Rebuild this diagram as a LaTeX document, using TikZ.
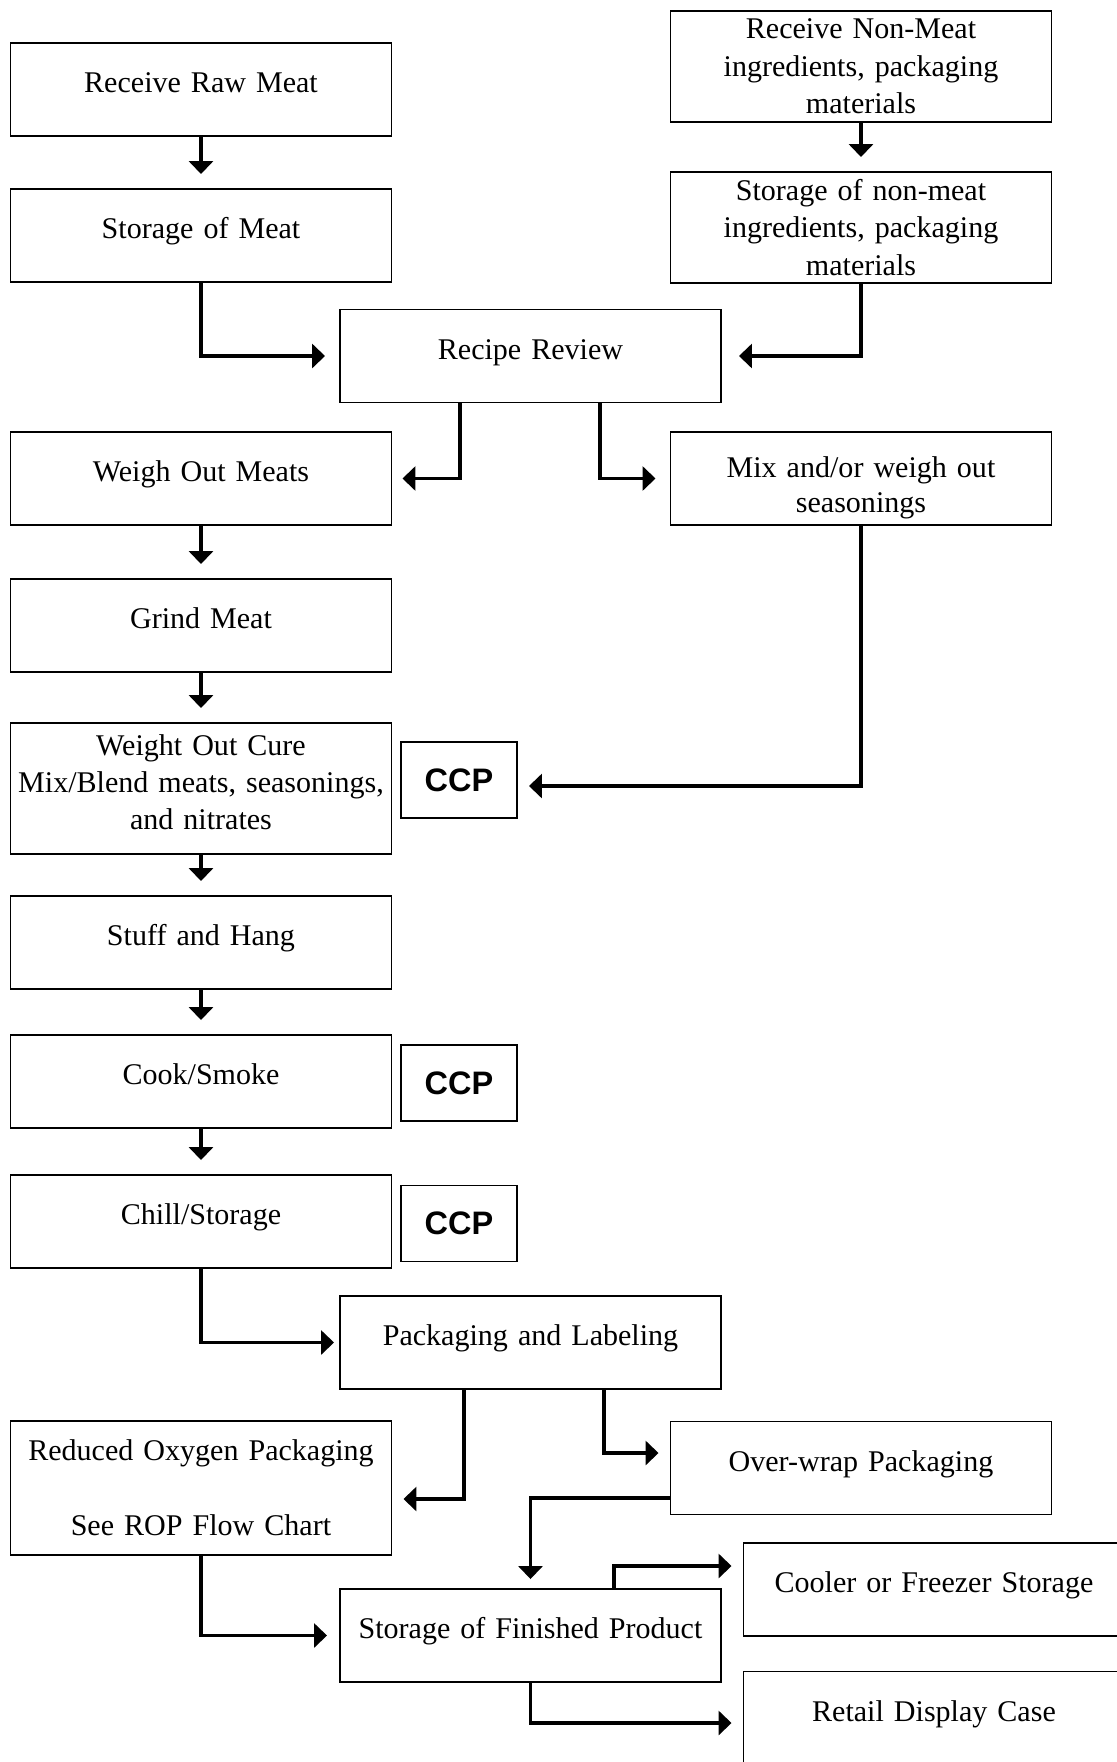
\documentclass[tikz,border=0pt]{standalone}
\usepackage{fontspec}
\setmainfont{Liberation Serif}
\newfontfamily\ccpfont{Liberation Sans}
\usepackage{tikz}
\usetikzlibrary{arrows.meta}
\tikzstyle{box}=[draw, line width=1.1pt, text width=7.56cm, text centered,
  inner xsep=0.03cm, minimum width=7.62cm, minimum height=1.86cm,
  font=\fontsize{17.1}{21.3}\selectfont]
\tikzstyle{stage}=[box, text height=0.45cm, text depth=0.33cm]
\tikzstyle{tall}=[box, minimum height=2.22cm]
\tikzstyle{ccp}=[draw, line width=1.1pt, minimum width=2.32cm,
  minimum height=1.52cm, font=\ccpfont\bfseries\fontsize{18.5}{22}\selectfont]
\tikzstyle{line}=[draw, line width=2pt, -{Triangle[length=0.26cm,width=0.48cm]},
  shorten >=0.28cm]
\newcommand{\stage}[3]{node (p#1) [#2] {#3}}

\begin{document}
\begin{tikzpicture}
  \clip (0,0) rectangle (22.34,-35.24);

  % Draw diagram elements
\path (4.02,-1.79) \stage{1}{stage}{Receive Raw Meat};
\path (p1)+(0,-2.92) \stage{2}{stage}{Storage of Meat};
\path (p1)+(13.2,0.46) \stage{3}{tall}{Receive Non-Meat\\ ingredients, packaging\\ materials};
\path (p3)+(0,-3.22) \stage{4}{tall}{Storage of non-meat\\ ingredients, packaging\\ materials};
\path (p2)+(6.59,-2.41) \stage{5}{stage}{Recipe Review};
\path (p2)+(0,-4.86) \stage{6}{stage}{Weigh Out Meats};
\path (p6)+(13.2,0) \stage{7}{box, font=\fontsize{17.1}{19.9}\selectfont}{\rule{0pt}{0.78cm}Mix and/or weigh out\\ seasonings};
\path (p6)+(0,-2.94) \stage{8}{stage}{Grind Meat};
\path (p8)+(0,-3.26) \stage{9}{box, minimum height=2.62cm}{Weight Out Cure\\ Mix/Blend meats, seasonings,\\ and nitrates\rule[-0.26cm]{0pt}{0pt}};
\path (p9)+(5.16,0.17) node (c1)[ccp] {CCP};
\path (p9)+(0,-3.08) \stage{10}{stage}{Stuff and Hang};
\path (p10)+(0,-2.78) \stage{11}{stage}{Cook/Smoke};
\path (p11)+(5.16,-0.03) node (c2)[ccp] {CCP};
\path (p11)+(0,-2.80) \stage{12}{stage}{Chill/Storage};
\path (p12)+(5.16,-0.04) node (c3)[ccp] {CCP};
\path (p12)+(6.59,-2.42) \stage{13}{stage}{Packaging and Labeling};
\path (p12)+(0,-5.33) \stage{14}{box, minimum height=2.68cm}{Reduced Oxygen Packaging\\[21.3pt] See ROP Flow Chart};
\path (p13)+(6.61,-2.51) \stage{15}{stage}{Over-wrap Packaging};
\path (p13)+(0,-5.86) \stage{16}{stage}{Storage of Finished Product};
\path (p16)+(8.07,0.92) \stage{17}{stage}{Cooler or Freezer Storage};
\path (p16)+(8.07,-1.65) \stage{18}{stage}{Retail Display Case};

  % Draw arrows between elements
\path [line] (p1.south) -- (p2.north);
\path [line] (p2.south) |- (p5.west);
\path [line] (p3.south) -- (p4.north);
\path [line, shorten >=0.34cm] (p4.south) |- (p5.east);
\path [line, shorten >=0.2cm] ([xshift=-1.41cm]p5.south) |- (p6.east);
\path [line] ([xshift=1.39cm]p5.south) |- (p7.west);
\path [line] (p6.south) -- (p8.north);
\path [line] (p8.south) -- (p9.north);
\path [line, shorten >=0.22cm] (p7.south) |- ([yshift=-0.12cm]c1.east);
\path [line] (p9.south) -- (p10.north);
\path [line] (p10.south) -- (p11.north);
\path [line] (p11.south) -- (p12.north);
\path [line, shorten >=0.1cm] (p12.south) |- (p13.west);
\path [line, shorten >=0.22cm] ([xshift=-1.33cm]p13.south) |- ([yshift=-0.22cm]p14.east);
\path [line, shorten >=0.22cm] ([xshift=1.47cm]p13.south) |- ([yshift=0.3cm]p15.west);
\path [line, shorten >=0.18cm] ([yshift=-0.6cm]p15.west) -| (p16.north);
\path [line, shorten >=0.24cm] (p14.south) |- (p16.west);
\path [line, shorten >=0.22cm] ([xshift=1.67cm]p16.north) |- ([yshift=0.47cm]p17.west);
\path [line, shorten >=0.22cm] (p16.south) |- ([yshift=-0.1cm]p18.west);
\end{tikzpicture}
\end{document}
